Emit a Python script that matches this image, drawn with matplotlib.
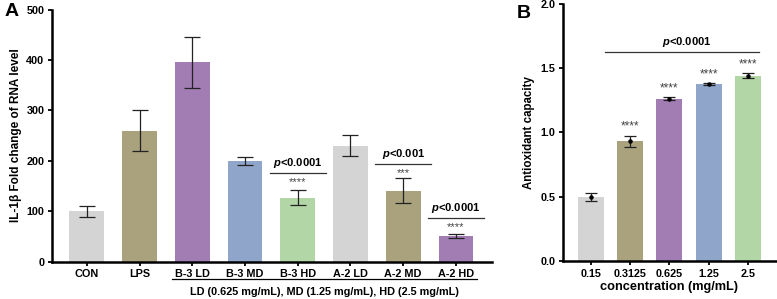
import numpy as np
import matplotlib
matplotlib.use("Agg")
import matplotlib.pyplot as plt

plt.rcParams['font.family'] = ['Liberation Sans', 'DejaVu Sans']
plt.rcParams['font.weight'] = 'bold'
plt.rcParams['mathtext.fontset'] = 'custom'
plt.rcParams['mathtext.bfit'] = 'Liberation Sans:bold:italic'
plt.rcParams['mathtext.it'] = 'Liberation Sans:italic'

# panel A data
groups_a = ['CON', 'LPS', 'B-3 LD', 'B-3 MD', 'B-3 HD', 'A-2 LD', 'A-2 MD', 'A-2 HD']
il1b_mean = [100, 260, 395, 200, 127, 230, 141, 51]
il1b_err = [10.5, 41, 50, 7.5, 15, 21, 25, 4.5]

# panel B data
conc_labels = ['0.15', '0.3125', '0.625', '1.25', '2.5']
antiox_mean = [0.50, 0.93, 1.262, 1.377, 1.441]
antiox_err = [0.03, 0.045, 0.01, 0.005, 0.02]

GRAY = '#d4d4d4'
OLIVE = '#a9a27d'
PURPLE = '#a27db4'
BLUE = '#8fa5c9'
GREEN = '#b3d6a7'
colors_a = [GRAY, OLIVE, PURPLE, BLUE, GREEN, GRAY, OLIVE, PURPLE]
colors_b = [GRAY, OLIVE, PURPLE, BLUE, GREEN]

# significance brackets for panel A: (bar index, line y, label, stars)
sig_a = [(4, 175, '<0.0001', '****'), (6, 193, '<0.001', '***'), (7, 86, '<0.0001', '****')]


def style_axis(ax, size):
    for s in ['top', 'right']:
        ax.spines[s].set_visible(False)
    for s in ['left', 'bottom']:
        ax.spines[s].set_linewidth(1.8)
    ax.tick_params(axis='both', width=1.3, length=3, pad=2.5, labelsize=size)
    for lab in ax.get_xticklabels() + ax.get_yticklabels():
        lab.set_fontweight('bold')


fig = plt.figure(figsize=(7.77, 2.99), dpi=100)

# ---- panel A ----
ax1 = fig.add_axes([0.0669, 0.125, 0.566, 0.843])
x = np.arange(len(groups_a))
ax1.bar(x, il1b_mean, width=0.66, color=colors_a)
ax1.errorbar(x, il1b_mean, yerr=il1b_err, fmt='none', ecolor='#222222',
             elinewidth=0.9, capsize=6, capthick=0.9)
ax1.set_xlim(-0.66, 7.68)
ax1.set_ylim(0, 500)
ax1.set_yticks([0, 100, 200, 300, 400, 500])
ax1.set_xticks(x)
ax1.set_xticklabels(groups_a)
ax1.set_ylabel('IL-1β Fold change of RNA level', fontsize=8.5, fontweight='bold', labelpad=3)
style_axis(ax1, 7.8)

for i, ly, lab, stars in sig_a:
    ax1.plot([i - 0.53, i + 0.53], [ly, ly], color='#333333', lw=0.9)
    ax1.text(i, ly + 6, r'$\mathbfit{p}$' + lab, ha='center', va='bottom',
             fontsize=8, fontweight='bold')
    ax1.text(i, ly - 17, stars, ha='center', va='center', fontsize=8,
             color='#444444', fontweight='normal')

# underline of treatment groups + dose note
ax1.plot([1.62, 7.4], [-0.069, -0.069], transform=ax1.get_xaxis_transform(),
         color='black', lw=0.9, clip_on=False)
ax1.text(4.5, -0.121, 'LD (0.625 mg/mL), MD (1.25 mg/mL), HD (2.5 mg/mL)',
         transform=ax1.get_xaxis_transform(), ha='center', va='center',
         fontsize=7.8, fontweight='bold')
fig.text(0.006, 0.96, 'A', fontsize=14, fontweight='bold', va='center')

# ---- panel B ----
ax2 = fig.add_axes([0.7246, 0.127, 0.274, 0.86])
xb = np.arange(len(conc_labels))
ax2.bar(xb, antiox_mean, width=0.66, color=colors_b)
ax2.errorbar(xb, antiox_mean, yerr=antiox_err, fmt='none', ecolor='#222222',
             elinewidth=0.9, capsize=4.5, capthick=0.9)
ax2.scatter(xb, antiox_mean, s=5, color='black', zorder=3)
ax2.set_xlim(-0.7, 4.7)
ax2.set_ylim(0, 2.0)
ax2.set_yticks([0, 0.5, 1.0, 1.5, 2.0])
ax2.set_yticklabels(['0.0', '0.5', '1.0', '1.5', '2.0'])
ax2.set_xticks(xb)
ax2.set_xticklabels(conc_labels)
ax2.set_ylabel('Antioxidant capacity', fontsize=8.3, fontweight='bold', labelpad=4)
ax2.set_xlabel('concentration (mg/mL)', fontsize=9.2, fontweight='bold', labelpad=2)
style_axis(ax2, 7.8)

for i in range(1, len(xb)):
    ax2.text(i, antiox_mean[i] + antiox_err[i] + 0.07, '****', ha='center',
             va='center', fontsize=8.5, color='#444444', fontweight='normal')
ax2.plot([0.36, 4.27], [1.625, 1.625], color='#333333', lw=0.9)
ax2.text(2.43, 1.65, r'$\mathbfit{p}$' + '<0.0001', ha='center', va='bottom',
         fontsize=8, fontweight='bold')
fig.text(0.665, 0.955, 'B', fontsize=14, fontweight='bold', va='center')

fig.savefig('out.png', dpi=100)
